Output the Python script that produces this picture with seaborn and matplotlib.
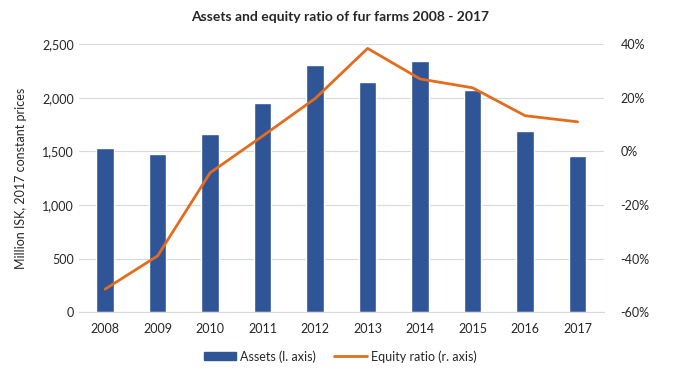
import numpy as np
import pandas as pd
import matplotlib
matplotlib.use('Agg')
import matplotlib.pyplot as plt
from matplotlib.ticker import FuncFormatter, MultipleLocator
from matplotlib.patches import Patch
from matplotlib.lines import Line2D
import seaborn as sns

# data
years = ['2008', '2009', '2010', '2011', '2012', '2013', '2014', '2015', '2016', '2017']
assets = [1533, 1474, 1660, 1947, 2304, 2143, 2339, 2071, 1688, 1455]
equity_ratio = [-51.4, -39.0, -8.0, 5.7, 19.7, 38.4, 27.0, 23.7, 13.3, 11.0]

bar_col = '#2F5597'
line_col = '#E46C1E'
grid_col = '#D9D9D9'
txt_col = '#262626'

sns.set_style('white')
plt.rcParams['font.family'] = ['Lato', 'DejaVu Sans']

df = pd.DataFrame({'year': years, 'assets': assets, 'equity': equity_ratio})
df['pos'] = np.arange(len(df))

fig = plt.figure(figsize=(6.8, 3.77), dpi=100)
ax = fig.add_axes([0.116, 0.172, 0.772, 0.711])

sns.barplot(data=df, x='year', y='assets', color=bar_col, width=0.33,
            saturation=1, ax=ax, zorder=2)
ax.set_ylim(0, 2500)
ax.yaxis.set_major_locator(MultipleLocator(500))
ax.yaxis.set_major_formatter(FuncFormatter(lambda v, p: f'{int(v):,}'))
ax.set_xlim(-0.5, 9.5)
ax.grid(axis='y', color=grid_col, lw=0.8, zorder=0)
ax.set_axisbelow(True)
ax.set_xlabel('')
ax.set_ylabel('Million ISK, 2017 constant prices', fontsize=9, color=txt_col)
ax.yaxis.set_label_coords(-0.099, 0.5)
for s in ['top', 'right', 'left']:
    ax.spines[s].set_visible(False)
ax.spines['bottom'].set_color(grid_col)
ax.tick_params(axis='both', length=0, labelsize=9, colors=txt_col)
ax.tick_params(axis='x', pad=8)

ax2 = ax.twinx()
sns.lineplot(data=df, x='pos', y='equity', color=line_col, lw=2, ax=ax2)
ax2.set_ylim(-60, 40)
ax2.set_xlim(-0.5, 9.5)
ax2.yaxis.set_major_locator(MultipleLocator(20))
ax2.yaxis.set_major_formatter(FuncFormatter(lambda v, p: f'{int(round(v))}%'))
ax2.set_ylabel('')
ax2.set_xlabel('')
for s in ax2.spines.values():
    s.set_visible(False)
ax2.tick_params(axis='y', length=0, labelsize=9, colors=txt_col, pad=12)

fig.text(0.5, 0.955, 'Assets and equity ratio of fur farms 2008 - 2017',
         ha='center', va='center', fontsize=10, fontweight='bold', color=txt_col)

handles = [Patch(color=bar_col, label='Assets (l. axis)'),
           Line2D([], [], color=line_col, lw=2, label='Equity ratio (r. axis)')]
fig.legend(handles=handles, loc='center', bbox_to_anchor=(0.5, 0.055), ncol=2,
           frameon=False, fontsize=9, handlelength=2.6, handleheight=0.6,
           columnspacing=1.5, handletextpad=0.3)

fig.savefig('out.png', dpi=100)
